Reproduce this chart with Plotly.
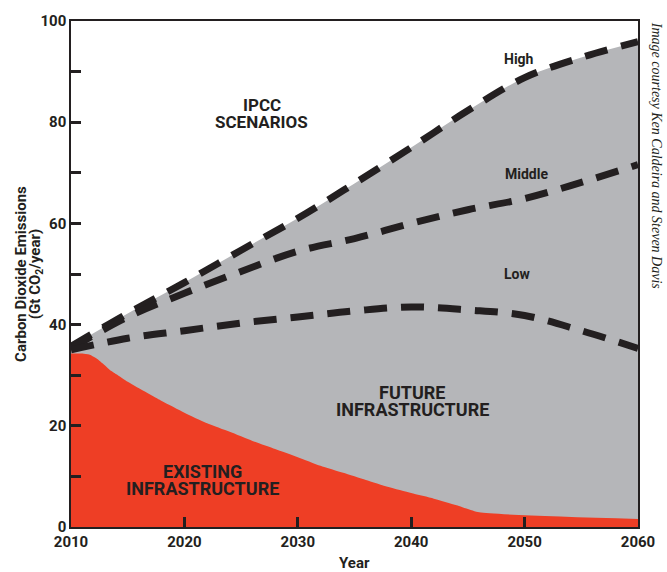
import plotly.graph_objects as go

# ---- data ----
years = [2010, 2015, 2020, 2025, 2030, 2035, 2040, 2045, 2050, 2055, 2060]
high = [35.7, 42.2, 48.3, 54.7, 61.0, 67.9, 75.0, 82.3, 88.8, 92.8, 95.9]
middle = [35.3, 41.5, 46.2, 50.5, 54.5, 57.0, 60.0, 62.7, 64.9, 68.1, 71.6]
low = [35.0, 37.3, 38.8, 40.3, 41.5, 42.7, 43.5, 42.9, 41.8, 38.8, 35.3]

existing_years = [2010, 2011, 2011.6, 2012.2, 2012.8, 2013.4, 2014, 2015, 2016, 2018, 2020,
                  2022, 2024, 2026, 2028, 2030, 2032, 2034, 2036, 2038, 2040, 2042,
                  2044, 2046, 2060]
existing = [34.3, 34.3, 34.1, 33.4, 32.3, 31.1, 30.2, 28.7, 27.4, 24.9, 22.6,
            20.5, 18.8, 17.0, 15.4, 13.8, 12.1, 10.7, 9.3, 7.9, 6.7, 5.6,
            4.3, 2.9, 1.6]

y_tickvals = [0, 10, 20, 30, 40, 50, 60, 70, 80, 90, 100]
y_ticktext = ["0", "", "20", "", "40", "", "60", "", "80", "", "100"]
x_tickvals = [2010, 2020, 2030, 2040, 2050, 2060]

INK = "#231f20"
RED = "#ee3e25"
GRAY = "#b5b6b9"
FONT = "Roboto, 'DejaVu Sans Condensed', sans-serif"

fig = go.Figure()

# future infrastructure (gray) up to the High scenario
fig.add_trace(go.Scatter(x=years, y=high, mode="lines", line=dict(width=0, shape="spline", color=GRAY),
                         fill="tozeroy", fillcolor=GRAY, hoverinfo="skip", showlegend=False))
# existing infrastructure (red)
fig.add_trace(go.Scatter(x=existing_years, y=existing, mode="lines",
                         line=dict(width=0, shape="spline", smoothing=0.5, color=RED),
                         fill="tozeroy", fillcolor=RED, hoverinfo="skip", showlegend=False))
# IPCC scenario lines
for name, vals in [("High", high), ("Middle", middle), ("Low", low)]:
    fig.add_trace(go.Scatter(x=years, y=vals, mode="lines", name=name,
                             line=dict(color=INK, width=7, dash="23px,14px", shape="spline"),
                             showlegend=False))

def ann(text, x, y, size, **kw):
    d = dict(text=text, x=x, y=y, showarrow=False,
             font=dict(family=FONT, size=size, color=INK, weight="bold"))
    d.update(kw)
    fig.add_annotation(**d)

# in-chart labels
ann("IPCC", 2026.8, 83.4, 17)
ann("SCENARIOS", 2026.8, 80.0, 17)
ann("High", 2049.5, 92.5, 14)
ann("Middle", 2050.2, 69.8, 14)
ann("Low", 2049.3, 50.0, 14)
ann("FUTURE", 2040.1, 26.5, 18)
ann("INFRASTRUCTURE", 2040.1, 23.2, 18)
ann("EXISTING", 2021.6, 10.9, 18)
ann("INFRASTRUCTURE", 2021.6, 7.6, 18)

# axis titles
ann("Carbon Dioxide Emissions", -0.0884, 0.5, 15, xref="paper", yref="paper", textangle=-90,
    xanchor="center", yanchor="middle")
ann("(Gt CO<sub>2</sub>/year)", -0.0615, 0.5, 15, xref="paper", yref="paper", textangle=-90,
    xanchor="center", yanchor="middle")
ann("Year", 0.5, -0.0705, 15, xref="paper", yref="paper", xanchor="center", yanchor="middle")

# credit
fig.add_annotation(text="Image courtesy Ken Caldeira and Steven Davis", xref="paper", yref="paper",
                   x=1.032, y=1.003, xanchor="center", yanchor="top", textangle=90, showarrow=False,
                   font=dict(family="'Liberation Serif', 'DejaVu Serif', serif", size=14, color=INK,
                             style="italic"))

fig.update_layout(
    width=667, height=572,
    margin=dict(l=71, r=19, t=17, b=45),
    paper_bgcolor="white", plot_bgcolor="white",
    xaxis=dict(range=[2010, 2060], tickvals=x_tickvals, ticks="inside", ticklen=10, tickwidth=2.5,
               tickcolor=INK, showline=True, linecolor=INK, linewidth=1.5, mirror=True,
               showgrid=False, zeroline=False,
               tickfont=dict(family=FONT, size=15, color=INK, weight="bold")),
    yaxis=dict(range=[0, 100], tickvals=y_tickvals, ticktext=y_ticktext, ticks="inside", ticklen=10,
               tickwidth=2.5, tickcolor=INK, showline=True, linecolor=INK, linewidth=1.5, mirror=True,
               showgrid=False, zeroline=False,
               tickfont=dict(family=FONT, size=15, color=INK, weight="bold")),
)

fig.write_html("out.html", config={"displayModeBar": False},
               post_script="document.body.style.margin='0';")
